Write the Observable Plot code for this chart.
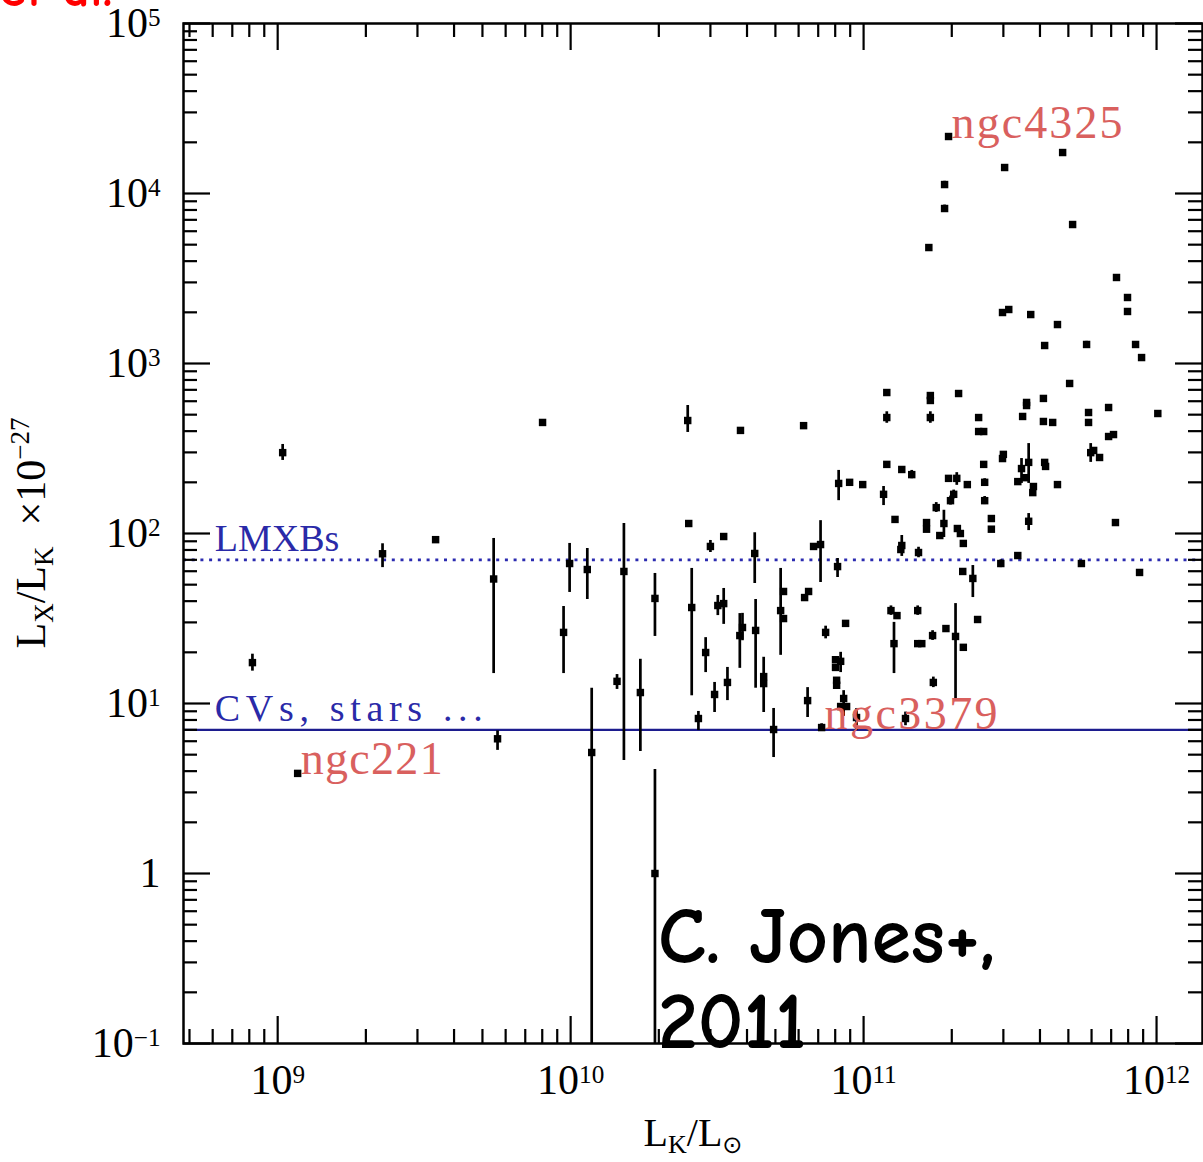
<!DOCTYPE html>
<html><head><meta charset="utf-8">
<script src="https://cdn.jsdelivr.net/npm/d3@7"></script>
<script src="https://cdn.jsdelivr.net/npm/@observablehq/plot@0.6"></script>
<style>html,body{margin:0;padding:0;background:#fff;overflow:hidden;} svg{display:block;}</style>
</head><body><div id="chart"></div><script>
// Galaxies with error bars: K-band luminosity, Lx/Lk ratio, lower and upper error
const barLK = [8.2e8,1.04e9,2.28e9,5.46e9,5.63e9,9.46e9,9.92e9,1.14e10,1.18e10,1.44e10,
  1.52e10,1.73e10,1.94e10,1.94e10,2.59e10,2.73e10,2.89e10,3.0e10,3.1e10,3.18e10,
  3.33e10,3.43e10,3.78e10,3.86e10,4.25e10,4.28e10,4.56e10,4.93e10,5.21e10,6.44e10,
  7.13e10,7.19e10,7.42e10,8.15e10,8.35e10,8.55e10,9.46e10,2.51e10,1.20e11,1.69e11,
  1.46e11,8.22e10,1.17e11,1.35e11,1.54e11,1.77e11,2.08e11,2.03e11,1.98e11,1.88e11,
  2.36e11,2.59e11,2.59e11,2.94e11,3.46e11,3.66e11,3.66e11,5.05e11,5.96e11,8.89e11,
  5.77e11,3.13e11,7.96e11,1.89e11,1.89e11,1.24e11,1.27e11,1.53e11,1.72e11,2.06e11,
  1.73e11,1.39e11];
const barRatio = [17.4,299,76,54,6.2,26.2,66.6,61.4,5.15,13.5,
  59.8,11.6,41.5,1.0,36.7,8.16,19.95,83.9,11.3,37.7,
  38.7,13.3,25.1,28,76.3,26.9,14.4,7.03,35.2,10.4,
  86.1,7.22,26.2,63.9,17.7,10.7,8.27,462,481,481,
  222,197,170,85,77.3,142,211,170,156,114.5,
  54.4,200,156,66.6,241,262,118,763,299,1084,
  1294,2078,2023,11290,8160,35.2,22.5,35.2,25.1,24.8,
  13.3,8.16];
const barLo = [15.5,269,63,15.0,5.3,15.0,45,40.9,0.1,12.1,
  4.62,5.22,24.8,0.1,11.1,6.93,15.2,77.3,8.85,32.9,
  29.2,10.4,16.1,23.4,50.8,12.3,8.85,4.81,19.2,8.27,
  51.5,6.9,24,55.1,15.2,8.4,6.93,393,445,445,
  210,156,146,73.3,72,133,192,160,147,94.7,
  42,190,148,63,197,197,104,735,262,1040,
  1240,2000,1950,10800,7800,33,15.0,33,23.5,10.4,
  12.4,7.4];
const barHi = [19.5,334,87,93.5,6.9,37.2,87.4,81.6,12.3,14.8,
  114.5,18.2,58.2,4.09,62.3,8.98,24.4,91,13.3,43.2,
  47.5,16.3,33.8,33.9,101,40.9,18.7,9.35,62.3,12.4,
  119,7.6,28.5,71.3,20,11.9,9.35,566,520,520,
  235,235,189,97.3,83,152,228,180,166,137,
  64.8,210,165,70,276,338,131,790,338,1130,
  1350,2150,2100,11800,8550,37.5,30,37.5,26.8,38.7,
  14.3,8.9];
// Galaxies without visible error bars
const plainLK = [3.46e9,1.17e9,8.02e9,2.53e10,3.33e10,4.56e10,5.33e10,5.33e10,6.29e10,6.49e10,
  6.75e10,8.68e10,8.02e10,8.02e10,8.09e10,8.09e10,8.35e10,8.75e10,6.24e10,3.80e10,
  1.20e11,1.69e11,1.69e11,2.11e11,2.47e11,2.47e11,2.57e11,1.20e11,1.35e11,8.96e10,
  9.93e10,1.28e11,1.34e11,1.95e11,2.26e11,1.64e11,1.64e11,1.82e11,2.09e11,2.14e11,
  2.19e11,2.18e11,2.57e11,2.73e11,2.73e11,2.98e11,3.0e11,3.36e11,3.49e11,3.60e11,
  3.60e11,3.36e11,3.57e11,3.80e11,3.78e11,4.11e11,4.11e11,4.42e11,4.15e11,4.18e11,
  4.59e11,5.86e11,5.86e11,6.10e11,6.39e11,6.86e11,6.86e11,7.13e11,7.24e11,5.54e11,
  8.75e11,1.01e12,8.48e11,4.15e11,4.59e11,3.72e11,2.98e11,7.96e11,7.30e11,5.17e11,
  4.78e11,3.03e11,1.95e11,1.67e11,1.30e11,1.53e11,1.58e11,1.91e11,2.19e11,2.45e11];
const plainRatio = [92,3.88,450,114.5,96,13.1,45.6,31.6,42,45.6,
  83.9,29.6,18.1,16.3,13.7,12.8,9.6,9.6,431,404,
  675,648,606,666,481,398,398,255,238,200,
  194,121,80.5,211,194,116,106,97.3,107,100,
  87.4,59.8,255,122.5,106,276,292,74.2,488,590,
  566,202,213,189,174,623,456,450,262,248,
  194,515,450,308,280,551,372,382,116,66.6,
  59,508,1294,1276,1695,1941,1995,2445,3206,6570,
  17420,14220,21640,4810,32.9,22.5,22.5,27.6,21.4,31.2];

const xMajor = [1e9, 1e10, 1e11, 1e12];
const xTickLabels = ["10^9", "10^10", "10^11", "10^12"];
const xMinor = [5e8,6e8,7e8,8e8,9e8, 2e9,3e9,4e9,5e9,6e9,7e9,8e9,9e9,
  2e10,3e10,4e10,5e10,6e10,7e10,8e10,9e10, 2e11,3e11,4e11,5e11,6e11,7e11,8e11,9e11];
const yMajor = [0.1, 1, 10, 100, 1000, 1e4, 1e5];
const yTickLabels = ["10^\u22121", "1", "10^1", "10^2", "10^3", "10^4", "10^5"];
const yMinor = [0.2,0.3,0.4,0.5,0.6,0.7,0.8,0.9, 2,3,4,5,6,7,8,9, 20,30,40,50,60,70,80,90,
  200,300,400,500,600,700,800,900, 2e3,3e3,4e3,5e3,6e3,7e3,8e3,9e3, 2e4,3e4,4e4,5e4,6e4,7e4,8e4,9e4];

const levels = [70, 7];
const levelLabels = ["LMXBs", "CVs, stars ..."];
const levelLabelLK = [6.1e8, 6.1e8];
const namedGalaxies = ["ngc4325", "ngc3379", "ngc221"];
const namedLK = [1.95e11, 7.19e10, 1.17e9];
const namedRatio = [21640, 7.22, 3.88];

const bars = barLK.map((x, i) => ({x, y: barRatio[i], lo: barLo[i], hi: barHi[i]}));
const plain = plainLK.map((x, i) => ({x, y: plainRatio[i]}));
const allPts = bars.concat(plain);

const serif = "'Liberation Serif', 'DejaVu Serif', serif";
const FH = 1020, FW = 1019;
const tk = {stroke: "#000", strokeWidth: 2.2};

const chart = Plot.plot({
  width: 1203, height: 1162,
  marginLeft: 183, marginRight: 1, marginTop: 23, marginBottom: 119,
  x: {type: "log", domain: [4.77e8, 1.435e12], axis: null},
  y: {type: "log", domain: [0.1, 1e5], axis: null},
  style: {background: "#fff"},
  marks: [
    Plot.ruleY([levels[0]], {stroke: "#2b2bb0", strokeWidth: 2.6, strokeDasharray: "3,5.7"}),
    Plot.ruleY([levels[1]], {stroke: "#1c1c8e", strokeWidth: 2.4}),
    Plot.ruleX(bars, {x: "x", y1: "lo", y2: "hi", stroke: "#000", strokeWidth: 2.7}),
    Plot.dot(allPts, {x: "x", y: "y", symbol: "square", r: 4.2, fill: "#000", stroke: null}),
    Plot.ruleX(xMajor, {...tk, insetTop: FH - 27}),
    Plot.ruleX(xMajor, {...tk, insetBottom: FH - 27}),
    Plot.ruleX(xMinor, {...tk, insetTop: FH - 14}),
    Plot.ruleX(xMinor, {...tk, insetBottom: FH - 14}),
    Plot.ruleY(yMajor, {...tk, insetRight: FW - 27}),
    Plot.ruleY(yMajor, {...tk, insetLeft: FW - 27}),
    Plot.ruleY(yMinor, {...tk, insetRight: FW - 14}),
    Plot.ruleY(yMinor, {...tk, insetLeft: FW - 14}),
    Plot.frame({stroke: "#000", strokeWidth: 2.5}),
    Plot.text(xMajor, {x: d => d, text: (d, i) => xTickLabels[i], frameAnchor: "bottom",
      lineAnchor: "top", dy: 21, fontSize: 42, fontFamily: serif, fill: "#000"}),
    Plot.text(yMajor, {y: d => d, text: (d, i) => yTickLabels[i], frameAnchor: "left",
      textAnchor: "end", lineAnchor: "middle", dx: -23, fontSize: 42, fontFamily: serif, fill: "#000"}),
    Plot.text(levelLabels, {x: (d, i) => levelLabelLK[i], y: (d, i) => levels[i], text: d => d,
      textAnchor: "start", lineAnchor: "bottom", dy: -9, fontSize: 38, fontFamily: serif, fill: "#2a2aa8"}),
    Plot.text(namedGalaxies, {x: (d, i) => namedLK[i], y: (d, i) => namedRatio[i], text: d => d,
      textAnchor: "start", lineAnchor: "bottom", dx: 3, dy: 1, fontSize: 46, fontFamily: serif, fill: "#d9605e"})
  ]
});

const svg = d3.select(chart);
svg.selectAll("text").each(function () {
  const t = this.textContent;
  const m = /^10\^(.+)$/.exec(t);
  if (m) {
    const el = d3.select(this);
    el.text("10");
    el.append("tspan").attr("dy", "-0.45em").attr("font-size", "0.6em").text(m[1]);
  }
  const widths = {"ngc4325": 171, "ngc3379": 173, "ngc221": 142, "CVs, stars ...": 268};
  if (widths[t]) d3.select(this).attr("textLength", widths[t]).attr("lengthAdjust", "spacing");
});

// axis titles
const yT = svg.append("text").attr("transform", "translate(45,533) rotate(-90)")
  .attr("text-anchor", "middle").attr("font-family", serif).attr("font-size", 42).attr("fill", "#000");
yT.append("tspan").text("L");
yT.append("tspan").attr("dy", 8).attr("font-size", 27).text("X");
yT.append("tspan").attr("dy", -8).text("/L");
yT.append("tspan").attr("dy", 8).attr("font-size", 27).text("K");
yT.append("tspan").attr("dy", -8).text("\u00a0\u00a0\u00d710");
yT.append("tspan").attr("dy", -16).attr("font-size", 27).text("\u221227");

const xT = svg.append("text").attr("x", 693).attr("y", 1146)
  .attr("text-anchor", "middle").attr("font-family", serif).attr("font-size", 40).attr("fill", "#000");
xT.append("tspan").text("L");
xT.append("tspan").attr("dy", 7).attr("font-size", 26).text("K");
xT.append("tspan").attr("dy", -7).text("/L");
xT.append("tspan").attr("dy", 7).attr("font-size", 24).attr("font-family", "'DejaVu Sans', sans-serif").text("\u2299");

// overlays
const comic = "'Comic Sans MS', 'Comic Neue', 'DejaVu Sans', sans-serif";
svg.append("text").attr("x", 658).attr("y", 963).attr("text-anchor", "start").attr("font-family", comic)
  .attr("font-weight", "bold").attr("font-size", 80).attr("fill", "#000").text("C. Jones+,");
svg.append("text").attr("x", 658).attr("y", 1048).attr("text-anchor", "start").attr("font-family", comic)
  .attr("font-weight", "bold").attr("font-size", 80).attr("fill", "#000").text("2011");
svg.append("text").attr("x", -1).attr("y", 6).attr("text-anchor", "start").attr("font-family", comic)
  .attr("font-weight", "bold").attr("font-size", 54).attr("fill", "#ff0000").text("et al.");

document.getElementById("chart").appendChild(chart);
</script></body></html>
